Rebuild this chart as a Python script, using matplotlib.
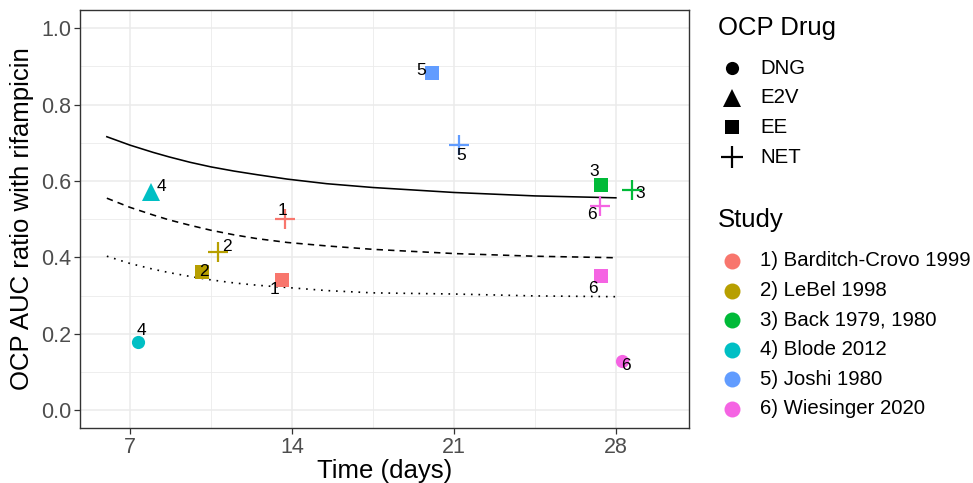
import matplotlib
matplotlib.use("Agg")
import matplotlib.pyplot as plt
from matplotlib.lines import Line2D
from matplotlib.ticker import MultipleLocator

plt.rcParams['font.family'] = ['Liberation Sans', 'DejaVu Sans']

# ---------------- data ----------------
studies = ["1) Barditch-Crovo 1999", "2) LeBel 1998", "3) Back 1979, 1980",
           "4) Blode 2012", "5) Joshi 1980", "6) Wiesinger 2020"]
study_colors = ["#F8766D", "#B79F00", "#00BA38", "#00BFC4", "#619CFF", "#F564E3"]
drugs = ["DNG", "E2V", "EE", "NET"]
drug_markers = {"DNG": "o", "E2V": "^", "EE": "s", "NET": "+"}

# observed points: study index, drug, time (days), AUC ratio
pt_study = [1, 1, 2, 2, 3, 3, 4, 4, 5, 5, 6, 6, 6]
pt_drug = ["NET", "EE", "NET", "EE", "EE", "NET", "E2V", "DNG", "EE", "NET", "NET", "EE", "DNG"]
pt_time = [13.7, 13.55, 10.8, 10.1, 27.35, 28.7, 7.9, 7.35, 20.05, 21.2, 27.3, 27.35, 28.25]
pt_ratio = [0.50, 0.342, 0.413, 0.362, 0.589, 0.576, 0.572, 0.179, 0.884, 0.694, 0.534, 0.351, 0.128]
# label offsets (days, ratio)
lab_dx = [-0.1, -0.3, 0.4, 0.1, -0.3, 0.35, 0.45, 0.15, -0.45, 0.1, -0.35, -0.35, 0.2]
lab_dy = [0.022, -0.025, 0.015, 0.0, 0.037, -0.01, 0.013, 0.03, 0.006, -0.027, -0.022, -0.032, -0.012]

# simulated curves
curve_time = [6, 7, 8, 8.7, 9.6, 10.5, 11.5, 12.5, 13.8, 15.5, 17.5, 21, 24.5, 28]
curve_solid = [0.716, 0.694, 0.675, 0.663, 0.649, 0.637, 0.626, 0.6165, 0.605, 0.593, 0.583, 0.570, 0.561, 0.556]
curve_dashed = [0.555, 0.531, 0.511, 0.498, 0.484, 0.471, 0.459, 0.449, 0.439, 0.430, 0.421, 0.410, 0.403, 0.399]
curve_dotted = [0.403, 0.384, 0.369, 0.360, 0.350, 0.341, 0.333, 0.327, 0.321, 0.313, 0.307, 0.304, 0.299, 0.297]

x_ticks = [7, 14, 21, 28]
y_ticks = [0.0, 0.2, 0.4, 0.6, 0.8, 1.0]

# ---------------- figure ----------------
W, H = 973, 483
fig = plt.figure(figsize=(W/100, H/100), dpi=100)
ax = fig.add_axes([80/W, 1 - 428/H, (689-80)/W, (428-10)/H])

ax.set_xlim(4.84, 31.16)
ax.set_ylim(-0.047, 1.048)
ax.set_xticks(x_ticks)
ax.set_yticks(y_ticks)
ax.set_yticklabels([f"{v:.1f}" for v in y_ticks])
ax.xaxis.set_minor_locator(MultipleLocator(3.5))
ax.yaxis.set_minor_locator(MultipleLocator(0.1))
ax.grid(which='major', color='#EBEBEB', lw=1.1, zorder=0)
ax.grid(which='minor', color='#EBEBEB', lw=0.6, zorder=0)
ax.set_axisbelow(True)
for s in ax.spines.values():
    s.set_color('#333333')
    s.set_linewidth(1.0)
ax.tick_params(which='major', length=4, color='#333333', labelsize=15.5, labelcolor='#4D4D4D',
               width=0.9, pad=2.5)
ax.tick_params(which='minor', length=0)

ax.plot(curve_time, curve_solid, color='black', lw=1.15, ls='-', zorder=2)
ax.plot(curve_time, curve_dashed, color='black', lw=1.15, ls=(0, (4, 3.2)), zorder=2)
ax.plot(curve_time, curve_dotted, color='black', lw=1.2, ls=(0, (1, 3.5)), zorder=2)

marker_sizes = {"o": 9.5, "^": 12.5, "s": 10, "+": 15}
for i in range(len(pt_time)):
    col = study_colors[pt_study[i] - 1]
    m = drug_markers[pt_drug[i]]
    ax.plot(pt_time[i], pt_ratio[i], marker=m, ms=marker_sizes[m], color=col,
            mew=1.6 if m == "+" else 0, ls='none', zorder=3)
    ax.text(pt_time[i] + lab_dx[i], pt_ratio[i] + lab_dy[i], str(pt_study[i]),
            fontsize=12.5, color='black', ha='center', va='center', zorder=4)

ax.set_xlabel("Time (days)", fontsize=18.5, labelpad=1)
ax.set_ylabel("OCP AUC ratio with rifampicin", fontsize=18.5, labelpad=5)

# manual legends (pixel positions)
def fx(px):
    return px / W

def fy(py):
    return 1 - py / H

fig.text(fx(718), fy(28), "OCP Drug", fontsize=18.5, ha='left', va='center')
leg_marker_size = {"o": 9.5, "^": 12.5, "s": 10, "+": 16}
for j, d in enumerate(drugs):
    yy = 68 + 29.7 * j
    m = drug_markers[d]
    fig.add_artist(Line2D([fx(732)], [fy(yy)], marker=m, ms=leg_marker_size[m], color='black',
                          mew=1.6 if m == "+" else 0, ls='none', transform=fig.transFigure))
    fig.text(fx(760), fy(yy), d, fontsize=14.7, ha='left', va='center')

fig.text(fx(718), fy(220), "Study", fontsize=18.5, ha='left', va='center')
for j, (st, c) in enumerate(zip(studies, study_colors)):
    yy = 261 + 29.6 * j
    fig.add_artist(Line2D([fx(732)], [fy(yy)], marker='o', ms=11.5, color=c, mew=0,
                          ls='none', transform=fig.transFigure))
    fig.text(fx(760), fy(yy), st, fontsize=14.7, ha='left', va='center')

fig.savefig("out.png", dpi=100)
